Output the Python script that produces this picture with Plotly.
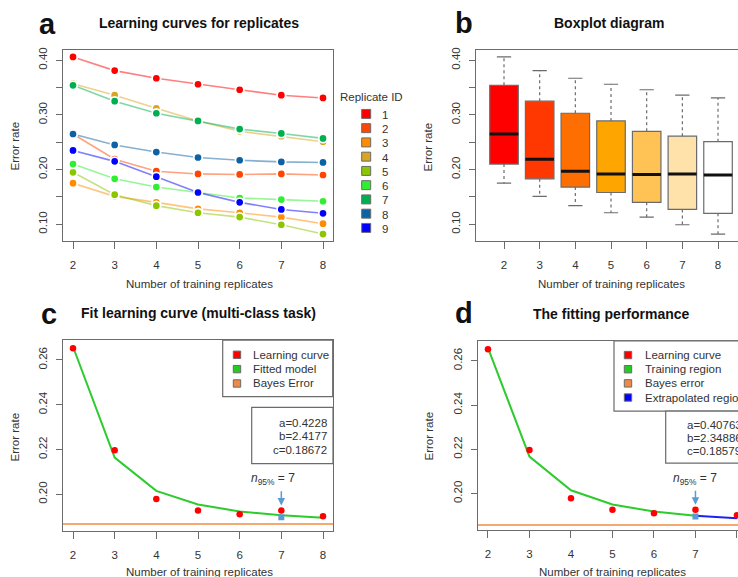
import numpy as np
import plotly.graph_objects as go

W, H = 738, 577
FONT = "Liberation Sans, Arial, sans-serif"


def px(x):
    return x / W


def py(y):
    return 1 - y / H


# ---------------- data ----------------
n_train = [2, 3, 4, 5, 6, 7, 8]
rep_ids = ["1", "2", "3", "4", "5", "6", "7", "8", "9"]
rep1 = [0.406, 0.381, 0.367, 0.356, 0.346, 0.336, 0.331]
rep2 = [0.265, 0.219, 0.197, 0.192, 0.191, 0.192, 0.190]
rep3 = [0.175, 0.151, 0.140, 0.128, 0.121, 0.113, 0.101]
rep4 = [0.357, 0.336, 0.312, 0.289, 0.270, 0.261, 0.251]
rep5 = [0.195, 0.154, 0.134, 0.121, 0.113, 0.099, 0.082]
rep6 = [0.210, 0.183, 0.168, 0.158, 0.148, 0.145, 0.142]
rep7 = [0.354, 0.325, 0.303, 0.289, 0.274, 0.266, 0.257]
rep8 = [0.265, 0.245, 0.232, 0.222, 0.217, 0.214, 0.213]
rep9 = [0.235, 0.215, 0.187, 0.158, 0.140, 0.127, 0.120]
replicates = [rep1, rep2, rep3, rep4, rep5, rep6, rep7, rep8, rep9]

rep_colors = ["#FF0000", "#FF4500", "#FF8C00", "#DAA520", "#8BC600",
              "#30EE30", "#00B050", "#0B62A4", "#0000FF"]
box_colors = ["#FF0000", "#FF3700", "#FF6E00", "#FFA500", "#FFC355",
              "#FFE1AA", "#FFFFFF"]

# learning curve (median error) and fitted models
lc_err = [0.2652, 0.2197, 0.1979, 0.1927, 0.1911, 0.1927, 0.1902]
fit_c = [0.2659, 0.2164, 0.2015, 0.1954, 0.1923, 0.1906, 0.1895]
bayes_c = 0.18672
params_c = ["a=0.4228", "b=2.4177", "c=0.18672"]

train_x_d = [2, 3, 4, 5, 6, 7]
fit_d_train = [0.2658, 0.2167, 0.2015, 0.1951, 0.1919, 0.1900]
extrap_x_d = [7, 8]
fit_d_extrap = [0.1900, 0.1889]
bayes_d = 0.18579
params_d = ["a=0.40763", "b=2.34886", "c=0.18579"]

n95_x = 7
n95_y = 0.1897

legend_c = ["Learning curve", "Fitted model", "Bayes Error"]
legend_c_colors = ["#FF0000", "#22CC22", "#EE8A45"]
legend_d = ["Learning curve", "Training region", "Bayes error", "Extrapolated region"]
legend_d_colors = ["#FF0000", "#22CC22", "#EE8A45", "#0000FF"]

FRAME = "#6b6b6b"
TXT = "#333333"
GREEN = "#2DCB2D"
ORANGE_LINE = "#F5A870"
ARROW = "#5B9BD5"


def rgba(hexc, a):
    h = hexc.lstrip("#")
    r, g, b = int(h[0:2], 16), int(h[2:4], 16), int(h[4:6], 16)
    return f"rgba({r},{g},{b},{a})"


fig = go.Figure()

# ---------------- panel a ----------------
for rid, vals, col in zip(rep_ids, replicates, rep_colors):
    fig.add_trace(go.Scatter(
        x=n_train, y=vals, mode="lines+markers", name=rid,
        line=dict(color=rgba(col, 0.5), width=1.6),
        marker=dict(color=col, size=8.5, line=dict(color="white", width=1.8)),
        xaxis="x", yaxis="y", showlegend=False))

# ---------------- panel b (boxplot, Tukey hinges) ----------------
def fivenum(v):
    v = np.sort(np.asarray(v, dtype=float))
    n = len(v)
    n4 = np.floor((n + 3) / 2) / 2
    d = np.array([1, n4, (n + 1) / 2, n + 1 - n4, n]) - 1
    return 0.5 * (v[np.floor(d).astype(int)] + v[np.ceil(d).astype(int)])


mat = np.array(replicates)
stats = []
for j, xv in enumerate(n_train):
    col = mat[:, j]
    mn, q1, med, q3, mx = fivenum(col)
    iqr = q3 - q1
    lo = col[col >= q1 - 1.5 * iqr].min()
    hi = col[col <= q3 + 1.5 * iqr].max()
    stats.append((xv, lo, q1, med, q3, hi))

BW = 0.8
fig.add_trace(go.Bar(
    x=[s[0] for s in stats], y=[s[4] - s[2] for s in stats], base=[s[2] for s in stats],
    width=BW, marker=dict(color=box_colors, line=dict(color=FRAME, width=1.2)),
    xaxis="x2", yaxis="y2", showlegend=False))

wx, wy, cx, cy, mx_, my_ = [], [], [], [], [], []
for xv, lo, q1, med, q3, hi in stats:
    wx += [xv, xv, None, xv, xv, None]
    wy += [q3, hi, None, q1, lo, None]
    cx += [xv - BW / 4, xv + BW / 4, None, xv - BW / 4, xv + BW / 4, None]
    cy += [hi, hi, None, lo, lo, None]
    mx_ += [xv - BW / 2, xv + BW / 2, None]
    my_ += [med, med, None]
fig.add_trace(go.Scatter(x=wx, y=wy, mode="lines", line=dict(color=FRAME, width=1.2, dash="3px,3px"),
                         xaxis="x2", yaxis="y2", showlegend=False))
fig.add_trace(go.Scatter(x=cx, y=cy, mode="lines", line=dict(color=FRAME, width=1.2),
                         xaxis="x2", yaxis="y2", showlegend=False))
fig.add_trace(go.Scatter(x=mx_, y=my_, mode="lines", line=dict(color="#111111", width=3),
                         xaxis="x2", yaxis="y2", showlegend=False))

# ---------------- panel c ----------------
fig.add_trace(go.Scatter(x=n_train, y=fit_c, mode="lines", line=dict(color=GREEN, width=2),
                         xaxis="x3", yaxis="y3", showlegend=False))
fig.add_trace(go.Scatter(x=n_train, y=lc_err, mode="markers", marker=dict(color="#FF0000", size=6.5),
                         xaxis="x3", yaxis="y3", showlegend=False))
fig.add_trace(go.Scatter(x=[n95_x], y=[n95_y], mode="markers",
                         marker=dict(color=ARROW, size=6, symbol="square"),
                         xaxis="x3", yaxis="y3", showlegend=False))

# ---------------- panel d ----------------
fig.add_trace(go.Scatter(x=train_x_d, y=fit_d_train, mode="lines", line=dict(color=GREEN, width=2),
                         xaxis="x4", yaxis="y4", showlegend=False))
fig.add_trace(go.Scatter(x=extrap_x_d, y=fit_d_extrap, mode="lines", line=dict(color="#2020F0", width=2),
                         xaxis="x4", yaxis="y4", showlegend=False))
fig.add_trace(go.Scatter(x=n_train, y=lc_err, mode="markers", marker=dict(color="#FF0000", size=6.5),
                         xaxis="x4", yaxis="y4", showlegend=False))
fig.add_trace(go.Scatter(x=[n95_x], y=[n95_y], mode="markers",
                         marker=dict(color=ARROW, size=6, symbol="square"),
                         xaxis="x4", yaxis="y4", showlegend=False))

# ---------------- axes ----------------
tickfont = dict(size=11.5, color=TXT, family=FONT)


def xax(domain, rng, anchor, mirror=True):
    return dict(domain=domain, range=rng, anchor=anchor, tickvals=n_train,
                ticktext=[str(v) for v in n_train], showline=True, linecolor=FRAME,
                linewidth=1.2, mirror=mirror, ticks="outside", ticklen=7, tickcolor=FRAME,
                tickwidth=1.2, showgrid=False, zeroline=False, tickfont=tickfont,
                ticklabelstandoff=6)


def yax(domain, rng, anchor, tv, tt, mirror=True):
    return dict(domain=domain, range=rng, anchor=anchor, tickvals=tv, ticktext=tt,
                showline=True, linecolor=FRAME, linewidth=1.2, mirror=mirror,
                ticks="outside", ticklen=6, tickcolor=FRAME, tickwidth=1.2,
                showgrid=False, zeroline=False, tickfont=tickfont, tickangle=-90,
                ticklabelstandoff=4)


yt_ab = [0.10, 0.15, 0.20, 0.25, 0.30, 0.35, 0.40]
ytt_ab = ["0.10", "", "0.20", "", "0.30", "", "0.40"]
yt_cd = [0.20, 0.22, 0.24, 0.26]
ytt_cd = ["0.20", "0.22", "0.24", "0.26"]

dom_y_top = [py(240), py(48)]
dom_y_c = [py(531), py(339)]
dom_y_d = [py(530), py(340)]

layout = dict(
    width=W, height=H, margin=dict(l=0, r=0, t=0, b=0),
    paper_bgcolor="white", plot_bgcolor="white", showlegend=False,
    font=dict(family=FONT, color=TXT, size=11.5),
    barmode="overlay",
    xaxis=xax([px(63), px(333)], [1.76, 8.24], "y"),
    yaxis=yax(dom_y_top, [0.069, 0.419], "x", yt_ab, ytt_ab),
    xaxis2=xax([px(476), 1.0], [1.215, 8.56], "y2"),
    yaxis2=yax(dom_y_top, [0.069, 0.419], "x2", yt_ab, ytt_ab, mirror=False),
    xaxis3=xax([px(63), px(333)], [1.76, 8.24], "y3"),
    yaxis3=yax(dom_y_c, [0.1835, 0.2690], "x3", yt_cd, ytt_cd),
    xaxis4=xax([px(478), 1.0], [1.76, 8.025], "y4"),
    yaxis4=yax(dom_y_d, [0.1835, 0.2690], "x4", yt_cd, ytt_cd, mirror=False),
)
fig.update_layout(**layout)

shapes = []
ann = []

# Bayes error lines
shapes.append(dict(type="line", xref="x3 domain", yref="y3", x0=0, x1=1, y0=bayes_c, y1=bayes_c,
                   line=dict(color=ORANGE_LINE, width=2), layer="below"))
shapes.append(dict(type="line", xref="x4 domain", yref="y4", x0=0, x1=1, y0=bayes_d, y1=bayes_d,
                   line=dict(color=ORANGE_LINE, width=2), layer="below"))

# titles / panel letters
for txt, x, y in [("Learning curves for replicates", 199, 21), ("Boxplot diagram", 609, 21),
                  ("Fit learning curve (multi-class task)", 198, 312),
                  ("The fitting performance", 611, 313)]:
    ann.append(dict(text=f"<b>{txt}</b>", x=px(x), y=py(y), xref="paper", yref="paper",
                    showarrow=False, xanchor="center", yanchor="middle",
                    font=dict(size=14, color="#111111", family=FONT)))
for txt, x, y in [("a", 47, 22), ("b", 464, 21), ("c", 49, 313), ("d", 464, 312)]:
    ann.append(dict(text=f"<b>{txt}</b>", x=px(x), y=py(y), xref="paper", yref="paper",
                    showarrow=False, xanchor="center", yanchor="middle",
                    font=dict(size=29, color="#111111", family=FONT)))

# axis titles
for x, y in [(15, 145), (428, 146), (15, 437), (429, 436)]:
    ann.append(dict(text="Error rate", x=px(x), y=py(y), xref="paper", yref="paper",
                    showarrow=False, textangle=-90, xanchor="center", yanchor="middle",
                    font=dict(size=11.5, color=TXT, family=FONT)))
for x, y in [(199, 283), (611, 283), (199, 572), (612, 572)]:
    ann.append(dict(text="Number of training replicates", x=px(x), y=py(y), xref="paper",
                    yref="paper", showarrow=False, xanchor="center", yanchor="middle",
                    font=dict(size=11.5, color=TXT, family=FONT)))

# panel a legend
ann.append(dict(text="Replicate ID", x=px(338), y=py(95), xref="paper", yref="paper",
                showarrow=False, xanchor="left", yanchor="middle",
                font=dict(size=11.5, color=TXT, family=FONT)))
for i, (rid, col) in enumerate(zip(rep_ids, rep_colors)):
    yc = 112.3 + i * 14.3
    shapes.append(dict(type="rect", xref="paper", yref="paper", x0=px(361.7), x1=px(370.7),
                       y0=py(yc - 4.5), y1=py(yc + 4.5), fillcolor=col,
                       line=dict(color=FRAME, width=1)))
    ann.append(dict(text=rid, x=px(385), y=py(yc + 1), xref="paper", yref="paper",
                    showarrow=False, xanchor="center", yanchor="middle",
                    font=dict(size=11.5, color=TXT, family=FONT)))

# panel c legend + params
shapes.append(dict(type="rect", xref="paper", yref="paper", x0=px(222.7), x1=px(332.7),
                   y0=py(396), y1=py(339.3), fillcolor="white", line=dict(color=FRAME, width=1.2)))
for i, (lab, col) in enumerate(zip(legend_c, legend_c_colors)):
    yc = 354 + i * 14.4
    shapes.append(dict(type="rect", xref="paper", yref="paper", x0=px(233.3), x1=px(240.7),
                       y0=py(yc - 3.7), y1=py(yc + 3.7), fillcolor=col,
                       line=dict(color=FRAME, width=1)))
    ann.append(dict(text=lab, x=px(251), y=py(yc), xref="paper", yref="paper",
                    showarrow=False, xanchor="left", yanchor="middle",
                    font=dict(size=11.5, color=TXT, family=FONT)))
shapes.append(dict(type="rect", xref="paper", yref="paper", x0=px(251.7), x1=px(333),
                   y0=py(463.3), y1=py(406.7), fillcolor="white", line=dict(color=FRAME, width=1.2)))
for i, t in enumerate(params_c):
    ann.append(dict(text=t, x=px(328.5), y=py(422.7 + i * 13.3), xref="paper", yref="paper",
                    showarrow=False, xanchor="right", yanchor="middle",
                    font=dict(size=11.5, color=TXT, family=FONT)))

# panel d legend + params (cut by the right edge, as in the reference)
xl, yt, yb = px(614), py(340), py(410.5)
shapes.append(dict(type="path", xref="paper", yref="paper",
                   path=f"M 1.01,{yt} L {xl},{yt} L {xl},{yb} L 1.01,{yb}",
                   fillcolor="white", line=dict(color=FRAME, width=1.2)))
for i, (lab, col) in enumerate(zip(legend_d, legend_d_colors)):
    yc = 354.3 + i * 14.2
    shapes.append(dict(type="rect", xref="paper", yref="paper", x0=px(624.3), x1=px(631.7),
                       y0=py(yc - 3.7), y1=py(yc + 3.7), fillcolor=col,
                       line=dict(color=FRAME, width=1)))
    ann.append(dict(text=lab, x=px(643), y=py(yc), xref="paper", yref="paper",
                    showarrow=False, xanchor="left", yanchor="middle",
                    font=dict(size=11.5, color=TXT, family=FONT)))
xl2, yt2, yb2 = px(665.7), py(410.5), py(462.7)
shapes.append(dict(type="path", xref="paper", yref="paper",
                   path=f"M 1.01,{yt2} L {xl2},{yt2} L {xl2},{yb2} L 1.01,{yb2}",
                   fillcolor="white", line=dict(color=FRAME, width=1.2)))
for i, t in enumerate(params_d):
    ann.append(dict(text=t, x=px(685), y=py(424.3 + i * 13), xref="paper", yref="paper",
                    showarrow=False, xanchor="left", yanchor="middle",
                    font=dict(size=11.5, color=TXT, family=FONT)))

# n95% arrows and labels
n95_txt = "<i>n</i><sub>95%</sub> = 7"
for xa, ya, tx in [("x3", "y3", 6.8), ("x4", "y4", 7.0)]:
    ann.append(dict(text="", x=n95_x, y=0.1950, xref=xa, yref=ya, ax=n95_x, ay=0.2020,
                    axref=xa, ayref=ya, showarrow=True, arrowhead=2, arrowsize=1,
                    arrowwidth=1.5, arrowcolor=ARROW))
    ann.append(dict(text=n95_txt, x=tx, y=0.2068, xref=xa, yref=ya, showarrow=False,
                    xanchor="center", yanchor="middle",
                    font=dict(size=12, color=TXT, family=FONT)))

fig.update_layout(shapes=shapes, annotations=ann)
fig.write_html("out.html")
